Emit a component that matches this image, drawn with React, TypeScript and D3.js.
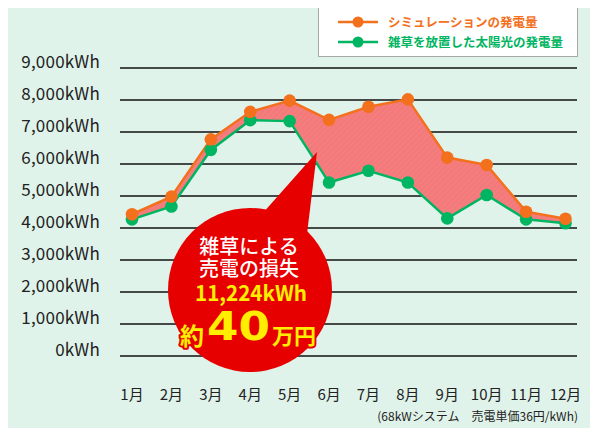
import React from "react";
import * as d3 from "d3";

const months = ["1月","2月","3月","4月","5月","6月","7月","8月","9月","10月","11月","12月"];
const simulation = [4430, 4980, 6770, 7630, 7980, 7380, 7790, 8020, 6200, 5970, 4510, 4290];
const weeds = [4270, 4670, 6440, 7370, 7340, 5420, 5790, 5420, 4300, 5030, 4270, 4150];
const yTicks = [0, 1000, 2000, 3000, 4000, 5000, 6000, 7000, 8000, 9000];
const legendLabels = ["シミュレーションの発電量", "雑草を放置した太陽光の発電量"];
const bubbleLines = ["雑草による", "売電の損失"];
const lossText = "11,224kWh";
const noteText = "(68kWシステム　売電単価36円/kWh)";

const W = 598, H = 436;
const ORANGE = "#f3701c";
const GREEN = "#00b562";
const RED = "#e60000";
const YELLOW = "#ffee00";
const FONT = "'Noto Sans CJK JP', 'Noto Sans', sans-serif";

export default function App() {
  const x = d3.scalePoint<string>().domain(months).range([132, 565.5]);
  const y = d3.scaleLinear().domain([0, 9000]).range([356, 68]);
  const idx = d3.range(months.length);

  const area = d3.area<number>()
    .x(i => x(months[i])!)
    .y0(i => y(weeds[i]))
    .y1(i => y(simulation[i]));
  const lineS = d3.line<number>().x(i => x(months[i])!).y(i => y(simulation[i]));
  const lineW = d3.line<number>().x(i => x(months[i])!).y(i => y(weeds[i]));

  const outline = { stroke: RED, strokeWidth: 4, strokeLinejoin: "round" as const, style: { paintOrder: "stroke" } };

  return (
    <div style={{ margin: -8, width: W, height: H }}>
      <svg width={W} height={H} style={{ display: "block", fontFamily: FONT }}>
        <defs>
          <pattern id="hatch" width="4" height="4" patternUnits="userSpaceOnUse" patternTransform="rotate(45)">
            <rect width="4" height="4" fill="#f57d7d" />
            <rect width="1.5" height="4" fill="#f2787a" />
          </pattern>
        </defs>
        <rect x={1} y={0.5} width={W - 2} height={H - 2} fill="#e0f3ea" stroke="#a8a8a8" strokeWidth={2} />

        {yTicks.map(t => (
          <g key={t}>
            <line x1={120} x2={577} y1={y(t)} y2={y(t)} stroke="#111" strokeWidth={1.3} />
            <text x={100} y={y(t)} textAnchor="end" fontSize={17} letterSpacing={0.2} fill="#222">
              {d3.format(",")(t)}kWh
            </text>
          </g>
        ))}

        {months.map(m => (
          <text key={m} x={x(m)} y={400} textAnchor="middle" fontSize={15} fill="#222">{m}</text>
        ))}
        <text x={578} y={421} textAnchor="end" fontSize={12} fill="#222">{noteText}</text>

        <path d={area(idx)!} fill="url(#hatch)" />
        <path d={lineW(idx)!} fill="none" stroke={GREEN} strokeWidth={2.5} />
        <path d={lineS(idx)!} fill="none" stroke={ORANGE} strokeWidth={2.5} />
        {idx.map(i => (
          <circle key={"w" + i} cx={x(months[i])} cy={y(weeds[i])} r={6.3} fill={GREEN} />
        ))}
        {idx.map(i => (
          <circle key={"s" + i} cx={x(months[i])} cy={y(simulation[i])} r={6.3} fill={ORANGE} />
        ))}

        <g>
          <polygon points="262,214 306,242 317,152" fill={RED} />
          <circle cx={250} cy={290} r={82} fill={RED} />
          {bubbleLines.map((t, i) => (
            <text key={t} x={249} y={254 + i * 21.5} textAnchor="middle" fontSize={20} fontWeight={500} fill="#fff">{t}</text>
          ))}
          <text x={251} y={301} textAnchor="middle" fontSize={21.5} fontWeight={700} fill={YELLOW}
            textLength={112} lengthAdjust="spacingAndGlyphs">{lossText}</text>
          <text x={180} y={345} fontSize={24} fontWeight={700} fill={YELLOW} {...outline}>約</text>
          <text x={207} y={340} fontSize={39} fontWeight={700} fill={YELLOW}
            fontFamily="'DejaVu Sans', sans-serif" textLength={63} lengthAdjust="spacingAndGlyphs" {...outline}>40</text>
          <text x={272} y={344} fontSize={22} fontWeight={700} fill={YELLOW} {...outline}>万円</text>
        </g>

        <rect x={318.5} y={6.5} width={259} height={50} fill="#fff" stroke="#a8a8a8" strokeWidth={1} />
        {[ORANGE, GREEN].map((c, i) => (
          <g key={c}>
            <line x1={338} x2={378} y1={22 + i * 20} y2={22 + i * 20} stroke={c} strokeWidth={2.5} />
            <circle cx={358} cy={22 + i * 20} r={5.5} fill={c} />
            <text x={388} y={26.5 + i * 20} fontSize={12.5} fontWeight={700} fill={c}>{legendLabels[i]}</text>
          </g>
        ))}
      </svg>
    </div>
  );
}
